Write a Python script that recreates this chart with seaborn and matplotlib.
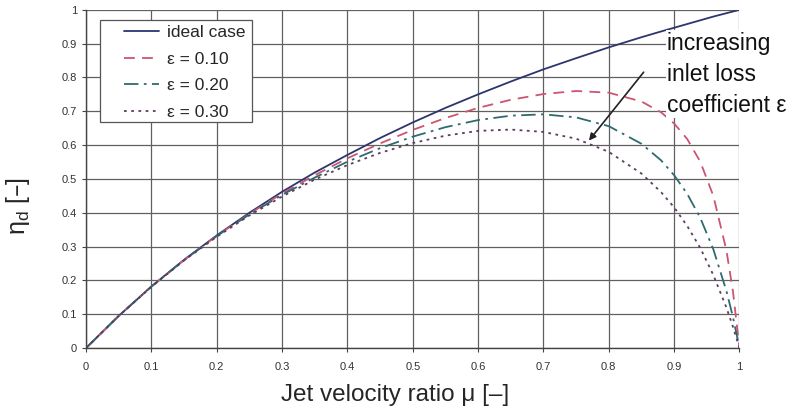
import numpy as np
import pandas as pd
import seaborn as sns
import matplotlib.pyplot as plt
from matplotlib.patches import Rectangle

# velocidad relativa del chorro (mu) y eficiencia
mu = [0, 0.05, 0.1, 0.15, 0.2, 0.25, 0.3, 0.35, 0.4, 0.45, 0.5, 0.55, 0.6,
      0.65, 0.7, 0.75, 0.8, 0.85, 0.88, 0.9, 0.92, 0.94, 0.96, 0.98, 0.99, 1.0]

eta_ideal = [0, 0.095, 0.182, 0.261, 0.333, 0.400, 0.462, 0.519, 0.571, 0.621,
             0.667, 0.710, 0.750, 0.788, 0.824, 0.857, 0.889, 0.919, 0.936,
             0.947, 0.958, 0.969, 0.980, 0.990, 0.995, 1.0]
eta_010 = [0, 0.095, 0.182, 0.260, 0.332, 0.397, 0.457, 0.511, 0.561, 0.605,
           0.645, 0.680, 0.710, 0.734, 0.751, 0.760, 0.755, 0.729, 0.697,
           0.664, 0.618, 0.551, 0.450, 0.289, 0.168, 0]
eta_020 = [0, 0.095, 0.182, 0.260, 0.331, 0.395, 0.453, 0.504, 0.551, 0.591,
           0.625, 0.653, 0.674, 0.687, 0.691, 0.682, 0.656, 0.604, 0.555,
           0.511, 0.456, 0.385, 0.292, 0.169, 0.092, 0]
eta_030 = [0, 0.095, 0.181, 0.259, 0.329, 0.392, 0.448, 0.498, 0.541, 0.577,
           0.606, 0.628, 0.642, 0.646, 0.639, 0.619, 0.580, 0.516, 0.461,
           0.416, 0.361, 0.296, 0.216, 0.120, 0.063, 0]

series = ['ideal case', 'ε = 0.10', 'ε = 0.20', 'ε = 0.30']
colores = ['#2b356e', '#cc5570', '#2f6a70', '#5b3d5e']
estilos = ['-', (0, (6, 4)), (0, (8, 3, 1.5, 3)), (0, (1.5, 2.5))]

df = pd.DataFrame({'mu': mu * 4,
                   'eta': eta_ideal + eta_010 + eta_020 + eta_030,
                   'serie': np.repeat(series, len(mu))})

sns.set_style('white')
plt.rcParams['font.family'] = ['Liberation Sans', 'DejaVu Sans']

fig = plt.figure(figsize=(7.93, 4.09), dpi=100)
ax = fig.add_axes([0.1085, 0.149, 0.824, 0.827])

for s, c, ls in zip(series, colores, estilos):
    d = df[df['serie'] == s]
    sns.lineplot(x='mu', y='eta', data=d, ax=ax, color=c, linestyle=ls,
                 linewidth=1.3, label=s)

ax.set_xlim(0, 1)
ax.set_ylim(0, 1)
ticks = np.round(np.arange(0, 1.01, 0.1), 1)
labels = ['0', '0.1', '0.2', '0.3', '0.4', '0.5', '0.6', '0.7', '0.8', '0.9', '1']
ax.set_xticks(ticks)
ax.set_xticklabels(labels)
ax.set_yticks(ticks)
ax.set_yticklabels(labels)
ax.tick_params(axis='both', labelsize=8, color='#444444', length=3,
               direction='out', bottom=True, left=True, labelcolor='#333333')
ax.tick_params(axis='x', pad=7)
ax.grid(True, color='#606060', linewidth=0.9)
for lado in ['top', 'right']:
    ax.spines[lado].set_visible(False)
for lado in ['left', 'bottom']:
    ax.spines[lado].set_color('#444444')
    ax.spines[lado].set_linewidth(1.0)

ax.set_xlabel('Jet velocity ratio μ [–]', fontsize=17.5, labelpad=8)
ax.xaxis.set_label_coords(0.473, -0.105)
ax.set_ylabel('η$_\\mathregular{d}$ [–]', fontsize=18)
ax.yaxis.set_label_coords(-0.082, 0.42)

# caja de la leyenda
ax.add_patch(Rectangle((0.0214, 0.669), 0.233, 0.301, transform=ax.transAxes,
                       facecolor='white', edgecolor='#555555', linewidth=0.9,
                       zorder=4))
leg = ax.legend(loc='upper left', bbox_to_anchor=(0.058, 0.955), fontsize=12.5,
                frameon=False, handlelength=2.0, handletextpad=0.5,
                borderpad=0, borderaxespad=0, labelspacing=0.66)
leg.set_zorder(5)

ax.annotate('', xy=(0.767, 0.607), xytext=(0.856, 0.822),
            arrowprops=dict(arrowstyle='-|>', color='#222222', lw=1.2,
                            mutation_scale=10))
ax.text(0.889, 0.935, 'increasing\ninlet loss\ncoefficient ε', fontsize=16.5,
        va='top', ha='left', linespacing=1.45, color='#111111',
        bbox=dict(facecolor='white', edgecolor='none', pad=1),
        clip_on=False, zorder=5)

fig.savefig('out.png', dpi=100)
